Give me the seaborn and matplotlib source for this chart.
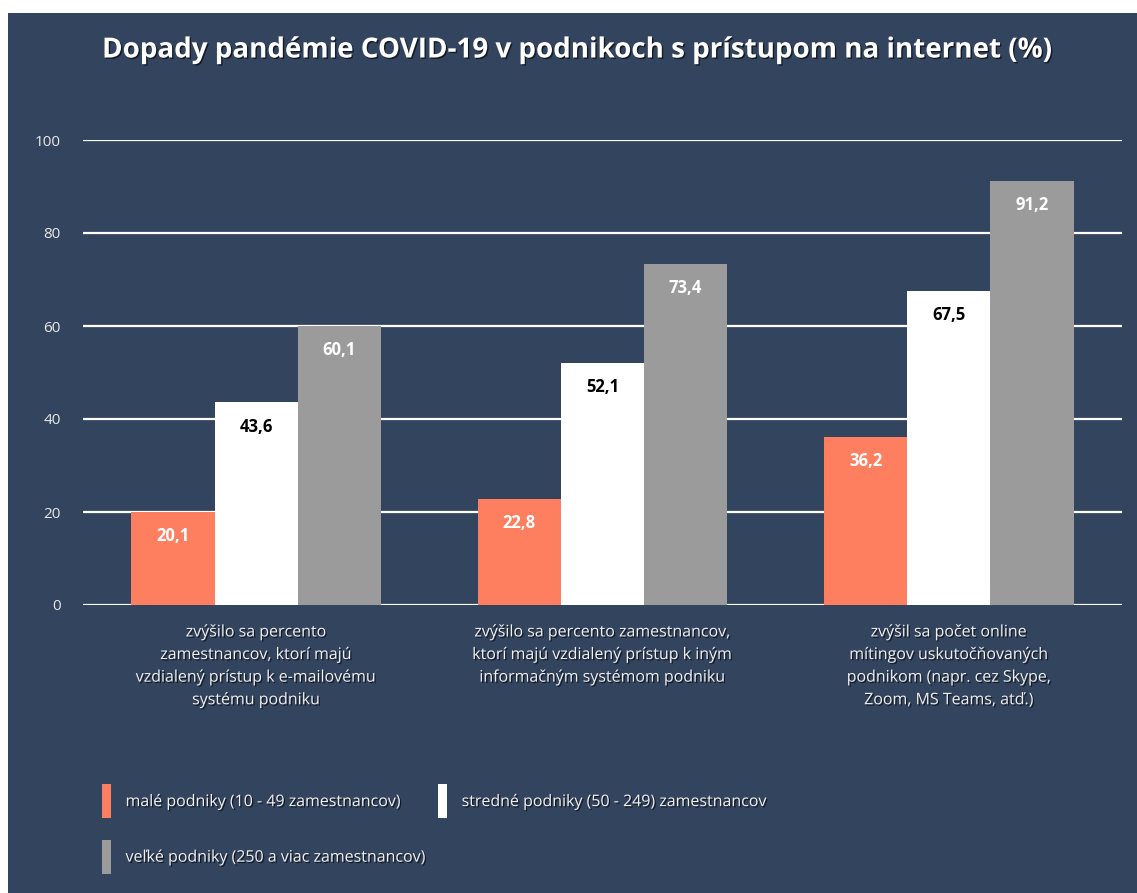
import matplotlib
matplotlib.use('Agg')
import matplotlib.pyplot as plt
import matplotlib.patheffects as pe
from matplotlib.patches import Rectangle, Patch
import seaborn as sns
import pandas as pd

# Data
categories = [
    'zvýšilo sa percento\nzamestnancov, ktorí majú\nvzdialený prístup k e-mailovému\nsystému podniku',
    'zvýšilo sa percento zamestnancov,\nktorí majú vzdialený prístup k iným\ninformačným systémom podniku',
    'zvýšil sa počet online\nmítingov uskutočňovaných\npodnikom (napr. cez Skype,\nZoom, MS Teams, atď.)',
]
groups = ['malé podniky (10 - 49 zamestnancov)',
          'stredné podniky (50 - 249) zamestnancov',
          'veľké podniky (250 a viac zamestnancov)']
male = [20.1, 22.8, 36.2]
stredne = [43.6, 52.1, 67.5]
velke = [60.1, 73.4, 91.2]

colors = ['#fd7f5f', '#ffffff', '#9b9b9b']
label_colors = ['white', 'black', 'white']
bg = '#33445f'

sns.set_theme(style='white')
plt.rcParams['font.family'] = ['Open Sans', 'DejaVu Sans']

rows = []
for i, cat in enumerate(categories):
    for g, vals in zip(groups, [male, stredne, velke]):
        rows.append({'Kategória': cat, 'Skupina': g, 'Hodnota': vals[i]})
df = pd.DataFrame(rows)

fig = plt.figure(figsize=(11.37, 8.93), dpi=100)
fig.patch.set_facecolor('white')
fig.patches.append(Rectangle((8 / 1137, 0), 1, 1 - 13 / 893, transform=fig.transFigure,
                             facecolor=bg, edgecolor='none', zorder=-10))

ax = fig.add_axes([83 / 1137, 1 - 605 / 893, (1122 - 83) / 1137, (605 - 140) / 893])
ax.set_facecolor('none')

sns.barplot(data=df, x='Kategória', y='Hodnota', hue='Skupina', hue_order=groups,
            palette=dict(zip(groups, colors)), width=0.72, saturation=1,
            edgecolor='none', linewidth=0, ax=ax, legend=False)

ax.set_xlim(-0.5, 2.5)
ax.set_ylim(0, 100)
ax.set_yticks([0, 20, 40, 60, 80, 100])
ax.set_axisbelow(True)
ax.yaxis.grid(True, color='white', linewidth=1.6)
ax.xaxis.grid(False)
for s in ax.spines.values():
    s.set_visible(False)

shadow = [pe.withSimplePatchShadow(offset=(1, -1), shadow_rgbFace='black', alpha=0.6)]
ax.tick_params(axis='y', colors='#e8e8e8', labelsize=11, length=0, pad=16)
ax.tick_params(axis='x', colors='#f0f0f0', labelsize=11.5, length=0, pad=14)
for t in ax.get_xticklabels():
    t.set_linespacing(1.55)
    t.set_path_effects(shadow)
ax.set_xlabel('')
ax.set_ylabel('')

for cont, lc in zip(ax.containers, label_colors):
    ax.bar_label(cont, labels=[f'{v:.1f}'.replace('.', ',') for v in cont.datavalues],
                 padding=-24, color=lc, fontsize=12, fontweight='bold')

fig.text(577 / 1137, 1 - 50 / 893, 'Dopady pandémie COVID-19 v podnikoch s prístupom na internet (%)',
         ha='center', va='center', color='white', fontsize=20, fontweight='bold',
         path_effects=shadow)

handles = [Patch(facecolor=c, edgecolor='none') for c in colors]
order = [0, 2, 1]
leg = fig.legend([handles[i] for i in order], [groups[i] for i in order],
                 loc='upper left', bbox_to_anchor=(88 / 1137, 1 - 770 / 893), ncol=2,
                 frameon=False, fontsize=11.5, handlelength=0.55, handleheight=2.9,
                 handletextpad=0.9, columnspacing=0.8, labelspacing=1.35)
for t in leg.get_texts():
    t.set_color('#f0f0f0')
    t.set_path_effects(shadow)

fig.savefig('out.png', dpi=100)
